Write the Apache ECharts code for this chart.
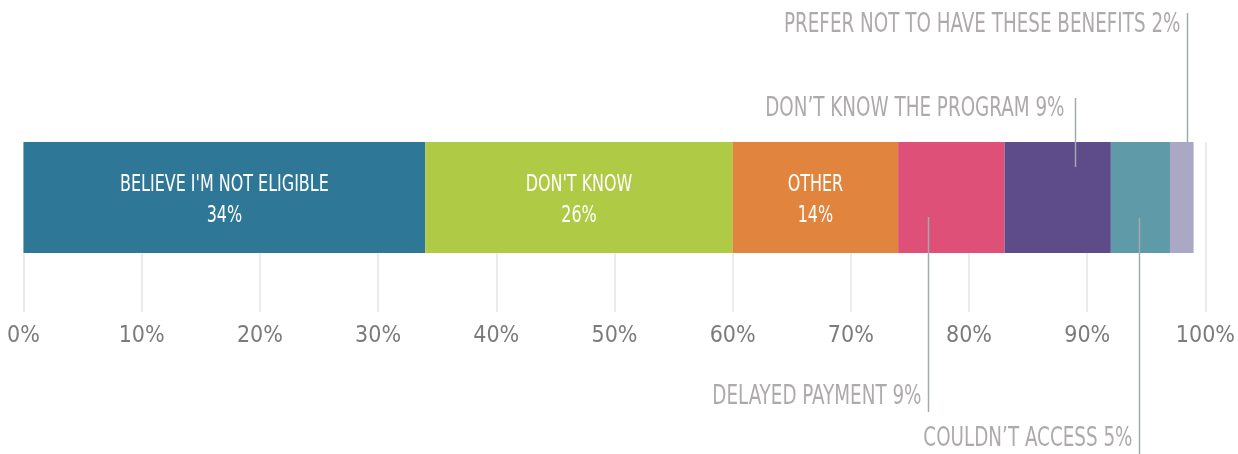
<!DOCTYPE html>
<html>
<head>
<meta charset="utf-8">
<title>Reasons for not receiving benefits</title>
<script src="https://cdn.jsdelivr.net/npm/echarts@6/dist/echarts.min.js"></script>
<style>
  html, body { margin: 0; padding: 0; background: #ffffff; }
  #chart { width: 1238px; height: 454px; }
</style>
</head>
<body>
<div id="chart"></div>
<script>
// Answers, in the order they are stacked along the bar
const categories = [
  "BELIEVE I'M NOT ELIGIBLE",
  "DON'T KNOW",
  "OTHER",
  "DELAYED PAYMENT",
  "DON\u2019T KNOW THE PROGRAM",
  "COULDN\u2019T ACCESS",
  "PREFER NOT TO HAVE THESE BENEFITS"
];
// Share of respondents, percent
const shares = [34, 26, 14, 9, 9, 5, 2];
// Axis ticks
const axisMin = 0;
const axisMax = 100;
const axisStep = 10;

const colors = ['#2e7796', '#afca45', '#e0843e', '#de5078', '#5e4b8a', '#5f9aa8', '#aba8c6'];
const FONT = "'Liberation Sans Narrow', 'Arial Narrow', 'DejaVu Sans Condensed', sans-serif";
// Horizontal squeeze that gives the text a condensed-gothic look
const SQUEEZE = 0.755;

// The first three answers are labelled inside the bar; the rest get a callout
const insideCount = 3;
const insideNameY = 185;
const insideValueY = 216;
// Callout layout for the small segments: where the leader sits within its
// segment (fraction of the width), text centre y, leader y-range, text gap
const callouts = {
  3: { frac: 0.28, textY: 397, y1: 217, y2: 412, gap: 7 },
  4: { frac: 0.66, textY: 109, y1: 98,  y2: 167, gap: 11 },
  5: { frac: 0.47, textY: 439, y1: 218, y2: 454, gap: 7 },
  6: { frac: 0.70, textY: 25,  y1: 13,  y2: 143, gap: 7 }
};

const chart = echarts.init(document.getElementById('chart'), null, { renderer: 'canvas' });

const series = categories.map((name, i) => ({
  name: name,
  type: 'bar',
  stack: 'total',
  barWidth: '100%',
  data: [shares[i]],
  itemStyle: { color: colors[i] },
  emphasis: { disabled: true },
  label: { show: false }
}));

chart.setOption({
  animation: false,
  grid: { left: 23.5, right: 31.3, top: 142, height: 111, containLabel: false },
  xAxis: {
    type: 'value',
    min: axisMin,
    max: axisMax,
    interval: axisStep,
    axisLine: { show: false },
    axisTick: {
      show: true,
      length: 59,
      lineStyle: { color: '#ebebe7', width: 2 }
    },
    splitLine: { show: true, lineStyle: { color: '#ebebe7', width: 2 } },
    axisLabel: {
      formatter: '{value}%',
      color: '#7b7b7b',
      fontFamily: FONT,
      fontSize: 23,
      margin: 72
    }
  },
  yAxis: {
    type: 'category',
    data: ['responses'],
    show: false
  },
  series: series
});

// Segment labels inside the bar and callouts for the narrow segments
const graphics = [];
let cumulative = 0;
shares.forEach((v, i) => {
  if (i < insideCount) {
    const cx = chart.convertToPixel({ xAxisIndex: 0 }, cumulative + v / 2);
    [[categories[i], insideNameY], [v + '%', insideValueY]].forEach(([txt, y]) => {
      graphics.push({
        type: 'text',
        z: 100,
        x: cx,
        y: y,
        scaleX: SQUEEZE,
        style: {
          text: txt,
          fill: '#ffffff',
          font: '23.5px ' + FONT,
          align: 'center',
          verticalAlign: 'middle'
        }
      });
    });
  }
  const c = callouts[i];
  if (c) {
    const x = Math.round(chart.convertToPixel({ xAxisIndex: 0 }, cumulative + c.frac * v)) + 0.5;
    graphics.push({
      type: 'line',
      z: 100,
      shape: { x1: x, y1: c.y1, x2: x, y2: c.y2 },
      style: { stroke: '#a3aaad', lineWidth: 1.5 }
    });
    graphics.push({
      type: 'text',
      z: 100,
      x: x - c.gap,
      y: c.textY,
      scaleX: SQUEEZE,
      style: {
        text: categories[i] + ' ' + v + '%',
        fill: '#aeaaab',
        font: '27px ' + FONT,
        align: 'right',
        verticalAlign: 'middle'
      }
    });
  }
  cumulative += v;
});
chart.setOption({ graphic: graphics });
</script>
</body>
</html>
